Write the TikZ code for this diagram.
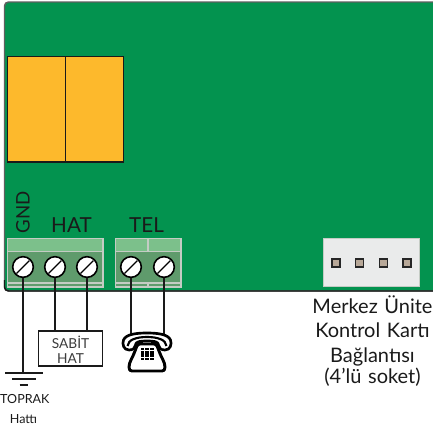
\documentclass[tikz,border=0pt]{standalone}
\usepackage{fontspec}
\setmainfont{Lato}
\definecolor{boardgreen}{HTML}{03934F}
\definecolor{relayyellow}{HTML}{FDB92C}
\definecolor{blockband}{HTML}{7CC08B}
\definecolor{blockbody}{HTML}{5F9B6C}
\definecolor{blockedge}{HTML}{C4CCC4}
\definecolor{socketfill}{HTML}{EAEBEB}
\definecolor{pinfill}{HTML}{B8A898}
\definecolor{inkcol}{HTML}{1A1A1A}
\tikzset{
  wirelink/.style={draw=inkcol,line width=1.8pt},
  screwhead/.style={circle,draw=black,fill=white,line width=1.2pt,minimum size=15.5pt,inner sep=0pt},
  socketpin/.style={draw=black!85,fill=pinfill,line width=1.2pt,minimum size=6.2pt,inner sep=0pt},
  boardtext/.style={font=\fontsize{15.5}{17}\selectfont,text=inkcol},
  smalltext/.style={font=\fontsize{9.4}{12}\selectfont,text=inkcol},
  socketlabel/.style={font=\fontsize{15}{16}\selectfont,text=inkcol},
}
\begin{document}
\begin{tikzpicture}[x=0.75pt,y=-0.75pt]
    \useasboundingbox (0,0) rectangle (433,426);
    \clip (0,0) rectangle (433,426);
    %% Board
    \draw[fill=boardgreen,draw=inkcol!70,line width=1.1pt,rounded corners=3pt] (4.5,2) rectangle (445,291);
    \draw[inkcol,line width=1.1pt,rounded corners=3pt] (4.5,280) -- (4.5,291) -- (433,291);
    %% Relays
    \draw[inkcol,line width=0.9pt,fill=relayyellow] (7.5,56.5) rectangle (65.5,162);
    \draw[inkcol,line width=0.9pt,fill=relayyellow] (65.5,56.5) rectangle (123.5,162);
    %% Terminal blocks
    \draw[blockedge,fill=blockbody,line width=1.1pt] (7.5,238.5) rectangle (103,287);
    \draw[blockedge,fill=blockband,line width=1.1pt] (7.5,238.5) rectangle (103,251.5);
    \draw[blockedge,line width=1.1pt] (7.5,283) -- (103,283);
    \draw[blockedge,fill=blockbody,line width=1.1pt] (115.5,238.5) rectangle (181,287);
    \draw[blockedge,fill=blockband,line width=1.1pt] (115.5,238.5) rectangle (181,251.5);
    \draw[blockedge,line width=1.1pt] (115.5,283) -- (181,283);
    \draw[blockedge,line width=1.1pt] (148,238.5) -- (148,251.5);
    \draw[blockedge,line width=1.1pt] (148,283) -- (148,287);
    %% Screws
    \foreach \name/\xpos in {screwgnd/23,screwhata/55,screwhatb/87,screwtela/131,screwtelb/164}{
        \node[screwhead] (\name) at (\xpos,267) {};
        \draw[black,line width=1pt] (\xpos-6.5,273.5) -- (\xpos+6.5,260.5);
    }
    %% Block labels
    \node[boardtext,rotate=90,font=\fontsize{14}{16}\selectfont] (gndlabel) at (23,212.5) {GND};
    \node[boardtext] (hatlabel) at (71.5,225.5) {HAT};
    \node[boardtext] (tellabel) at (146.5,225.5) {TEL};
    %% Socket
    \node[draw=blockedge,fill=socketfill,line width=1.1pt,minimum width=72pt,minimum height=36pt,inner sep=0pt] (socket) at (371.5,262.5) {};
    \foreach \name/\xpos in {pina/336,pinb/359.5,pinc/383.5,pind/407}{
        \node[socketpin] (\name) at (\xpos,263) {};
    }
    \node[socketlabel,text width=150pt,align=center,anchor=north] (socketlabel) at (372.5,291) {\baselineskip=18.2pt Merkez Ünite\\Kontrol Kartı\\Bağlantısı\\(4'lü soket)};
    %% Line box and ground
    \node[draw=inkcol,line width=1.1pt,fill=white,minimum width=48pt,minimum height=26pt,inner sep=0pt,align=center,font=\fontsize{10.3}{11.3}\selectfont,text=inkcol!85] (sabit) at (70.5,348.5) {\rule{0pt}{11.5pt}SABİT\\HAT};
    \coordinate (earth) at (23,373);
    \draw[wirelink] (screwgnd.south) -- (earth);
    \draw[wirelink] (screwhata.south) -- (screwhata |- sabit.north);
    \draw[wirelink] (screwhatb.south) -- (screwhatb |- sabit.north);
    \draw[inkcol,line width=1.2pt] (5,373) -- (43,373);
    \draw[inkcol,line width=1.2pt] (12,379) -- (36,379);
    \draw[inkcol,line width=1.2pt] (19.5,385) -- (28,385);
    \node[smalltext] (toprak) at (24.8,399) {TOPRAK};
    \node[smalltext] (hatti) at (23.5,419) {Hattı};
    %% Telephone
    \coordinate (phonea) at (131,334);
    \coordinate (phoneb) at (164,334);
    \draw[wirelink] (screwtela.south) -- (phonea);
    \draw[wirelink] (screwtelb.south) -- (phoneb);
    \draw[black,fill=white,line width=2pt,line join=round] (129,350) .. controls (123.5,350) and (122,344) .. (123.5,340) .. controls (126,334) and (137,333) .. (147,333) .. controls (157,333) and (168,334) .. (170.5,340) .. controls (172,344) and (170.5,350) .. (165,350) .. controls (161,350) and (158.5,348) .. (158.5,345) .. controls (158.5,342) and (155,341) .. (147,341) .. controls (139,341) and (135.5,342) .. (135.5,345) .. controls (135.5,348) and (133,350) .. (129,350) -- cycle;
    \draw[black,line width=1.6pt] (127.5,346) .. controls (128,339.5) and (137,337) .. (147,337) .. controls (157,337) and (166,339.5) .. (166.5,346);
    \draw[black,line width=2.4pt] (141,340) -- (141,344) (153,340) -- (153,344);
    \draw[black,fill=white,line width=2.2pt,line join=round] (140,344) -- (154,344) .. controls (157,344) and (158,348) .. (159,351) .. controls (161,357) and (165,362) .. (165,367) .. controls (165,370) and (164,371) .. (162,371) -- (132,371) .. controls (130,371) and (129,370) .. (129,367) .. controls (129,362) and (133,357) .. (135,351) .. controls (136,348) and (137,344) .. (140,344) -- cycle;
    \foreach \row in {0,1,2,3}{
        \foreach \col in {0,1,2}{
            \fill[black] (140.5+\col*4.9,348+\row*3.2) rectangle ++(3.4,2.3);
        }
    }
\end{tikzpicture}
\end{document}
